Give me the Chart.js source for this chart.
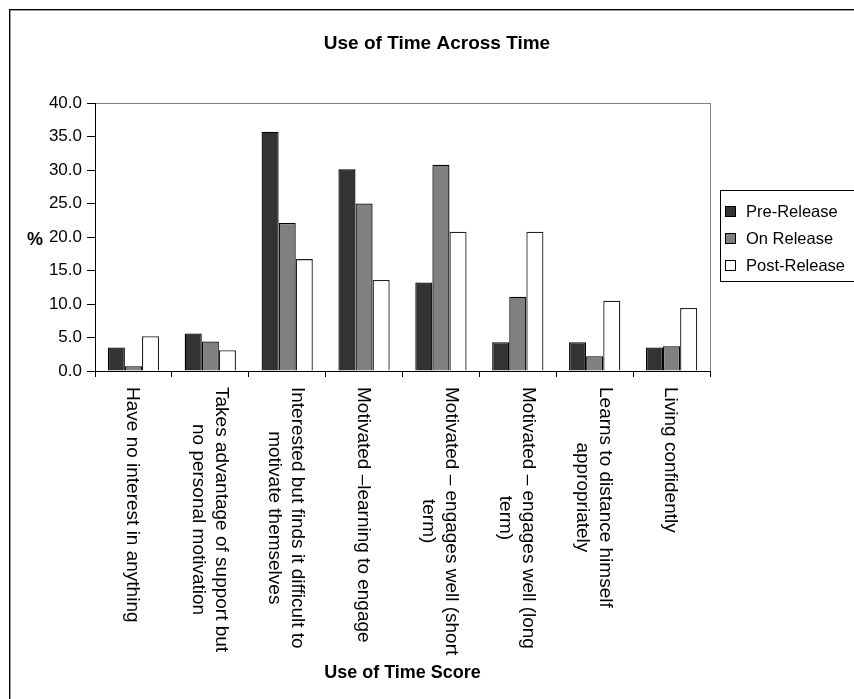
<!DOCTYPE html>
<html>
<head>
<meta charset="utf-8">
<script src="https://cdn.jsdelivr.net/npm/chart.js@4.4.1/dist/chart.umd.min.js"></script>
<style>
  html, body { margin: 0; padding: 0; background: #fff; }
  #wrap { width: 854px; height: 699px; }
</style>
</head>
<body>
<div id="wrap"><canvas id="chart" width="854" height="699"></canvas></div>
<script>
var categories = [
    ['Have no interest in anything'],
    ['Takes advantage of support but', 'no personal motivation'],
    ['Interested but finds it difficult to', 'motivate themselves'],
    ['Motivated \u2013learning to engage'],
    ['Motivated \u2013 engages well (short', 'term)'],
    ['Motivated \u2013 engages well (long', 'term)'],
    ['Learns to distance himself', 'appropriately'],
    ['Living confidently']
];
var preRelease  = [3.5, 5.6, 35.7, 30.1, 13.2, 4.3, 4.3, 3.5];
var onRelease   = [0.7, 4.4, 22.1, 25.0, 30.8, 11.1, 2.2, 3.7];
var postRelease = [5.2, 3.1, 16.7, 13.6, 20.8, 20.8, 10.5, 9.4];
var yTicks = [0, 5, 10, 15, 20, 25, 30, 35, 40];

var FONT = "'Liberation Sans', Arial, sans-serif";

// frame, plot border, title, axis titles, rotated labels, legend
var extras = {
    id: 'extras',
    beforeDraw: function(chart) {
        var ctx = chart.ctx, a = chart.chartArea;
        ctx.save();
        ctx.strokeStyle = '#000';
        ctx.lineWidth = 1;
        ctx.strokeRect(9.5, 9.5, 900, 720);
        ctx.strokeStyle = '#999';
        ctx.strokeRect(10.5, 10.5, 900, 720);
        ctx.strokeStyle = '#808080';
        ctx.strokeRect(a.left + 0.5, a.top + 0.5, a.right - a.left, a.bottom - a.top);
        ctx.restore();
    },
    afterDraw: function(chart) {
        var ctx = chart.ctx, a = chart.chartArea;
        var x = chart.scales.x;
        ctx.save();
        ctx.fillStyle = '#000';
        ctx.textBaseline = 'middle';
        ctx.textAlign = 'center';

        ctx.font = 'bold 19px ' + FONT;
        ctx.fillText('Use of Time Across Time', 437, 44);
        ctx.font = 'bold 18px ' + FONT;
        ctx.fillText('Use of Time Score', (a.left + a.right) / 2, 673);
        ctx.fillText('%', 35, 240);

        // category labels, read top to bottom
        ctx.font = '19px ' + FONT;
        chart.data.labels.forEach(function(lines, i) {
            var cx = x.getPixelForValue(i) - 1;
            var w = 0;
            lines.forEach(function(l) { w = Math.max(w, ctx.measureText(l).width); });
            ctx.save();
            ctx.translate(cx, 387 + w / 2);
            ctx.rotate(Math.PI / 2);
            var lh = 23, n = lines.length;
            lines.forEach(function(l, j) {
                ctx.fillText(l, 0, (j - (n - 1) / 2) * lh);
            });
            ctx.restore();
        });

        // legend
        ctx.strokeStyle = '#000';
        ctx.lineWidth = 1;
        ctx.strokeRect(720.5, 190.5, 160, 91);
        ctx.font = '16.5px ' + FONT;
        ctx.textAlign = 'left';
        chart.data.datasets.forEach(function(ds, i) {
            var cy = 211 + i * 27;
            ctx.fillStyle = ds.backgroundColor;
            ctx.fillRect(725, cy - 5, 11, 11);
            ctx.strokeRect(725.5, cy - 4.5, 10, 10);
            ctx.fillStyle = '#000';
            ctx.fillText(ds.label, 746, cy + 1);
        });
        ctx.restore();
    }
};

new Chart(document.getElementById('chart').getContext('2d'), {
    type: 'bar',
    data: {
        labels: categories,
        datasets: [
            { label: 'Pre-Release', data: preRelease, backgroundColor: '#333333', borderColor: '#000', borderWidth: 1.3 },
            { label: 'On Release', data: onRelease, backgroundColor: '#808080', borderColor: '#000', borderWidth: 1.3 },
            { label: 'Post-Release', data: postRelease, backgroundColor: '#ffffff', borderColor: '#222', borderWidth: 1.3 }
        ]
    },
    options: {
        responsive: false,
        animation: false,
        layout: { padding: { top: 103, right: 144, left: 0, bottom: 0 } },
        plugins: {
            legend: { display: false },
            title: { display: false },
            tooltip: { enabled: false }
        },
        datasets: { bar: { categoryPercentage: 0.667, barPercentage: 1.0 } },
        scales: {
            x: {
                offset: true,
                afterFit: function(s) { s.height = 699 - 103 - 268; },
                ticks: { display: false },
                grid: { drawOnChartArea: false, drawTicks: true, tickLength: 6, color: '#000', offset: true },
                border: { color: '#000', width: 1 }
            },
            y: {
                min: 0,
                max: 40,
                afterFit: function(s) { s.width = 95; },
                afterBuildTicks: function(s) { s.ticks = yTicks.map(function(v) { return { value: v }; }); },
                ticks: {
                    color: '#000',
                    padding: 5,
                    font: { family: FONT, size: 17 },
                    callback: function(v) { return v.toFixed(1); }
                },
                grid: { drawOnChartArea: false, drawTicks: true, tickLength: 8, color: '#000' },
                border: { color: '#000', width: 1 }
            }
        }
    },
    plugins: [extras]
});
</script>
</body>
</html>
